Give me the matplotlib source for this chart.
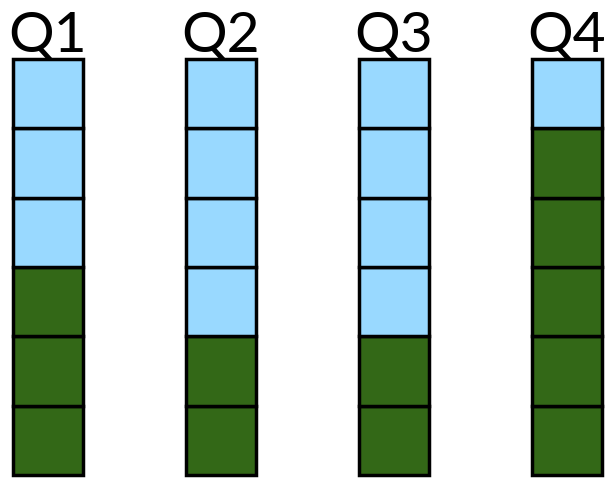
import matplotlib
matplotlib.use("Agg")
import matplotlib.pyplot as plt

# quarters and how many of the 6 cells are green / blue
quarters = ["Q1", "Q2", "Q3", "Q4"]
green_cells = [3, 2, 2, 5]
blue_cells = [3, 4, 4, 1]

GREEN = "#336817"
BLUE = "#99d9ff"

fig = plt.figure(figsize=(6.1, 4.8), dpi=100)
ax = fig.add_axes([0, 0, 1, 1])
ax.axis("off")

for i, q in enumerate(quarters):
    total = green_cells[i] + blue_cells[i]
    for k in range(total):
        col = GREEN if k < green_cells[i] else BLUE
        ax.bar(i, 1, bottom=k, width=0.405, color=col,
               edgecolor="black", linewidth=2.5, zorder=2)
    ax.text(i, total + 0.1, q, ha="center", va="baseline",
            fontsize=41, family="Lato", color="black", zorder=3)

ax.set_xlim(-0.277, 3.249)
ax.set_ylim(-0.072, 6.854)

fig.savefig("out.png", dpi=100)
